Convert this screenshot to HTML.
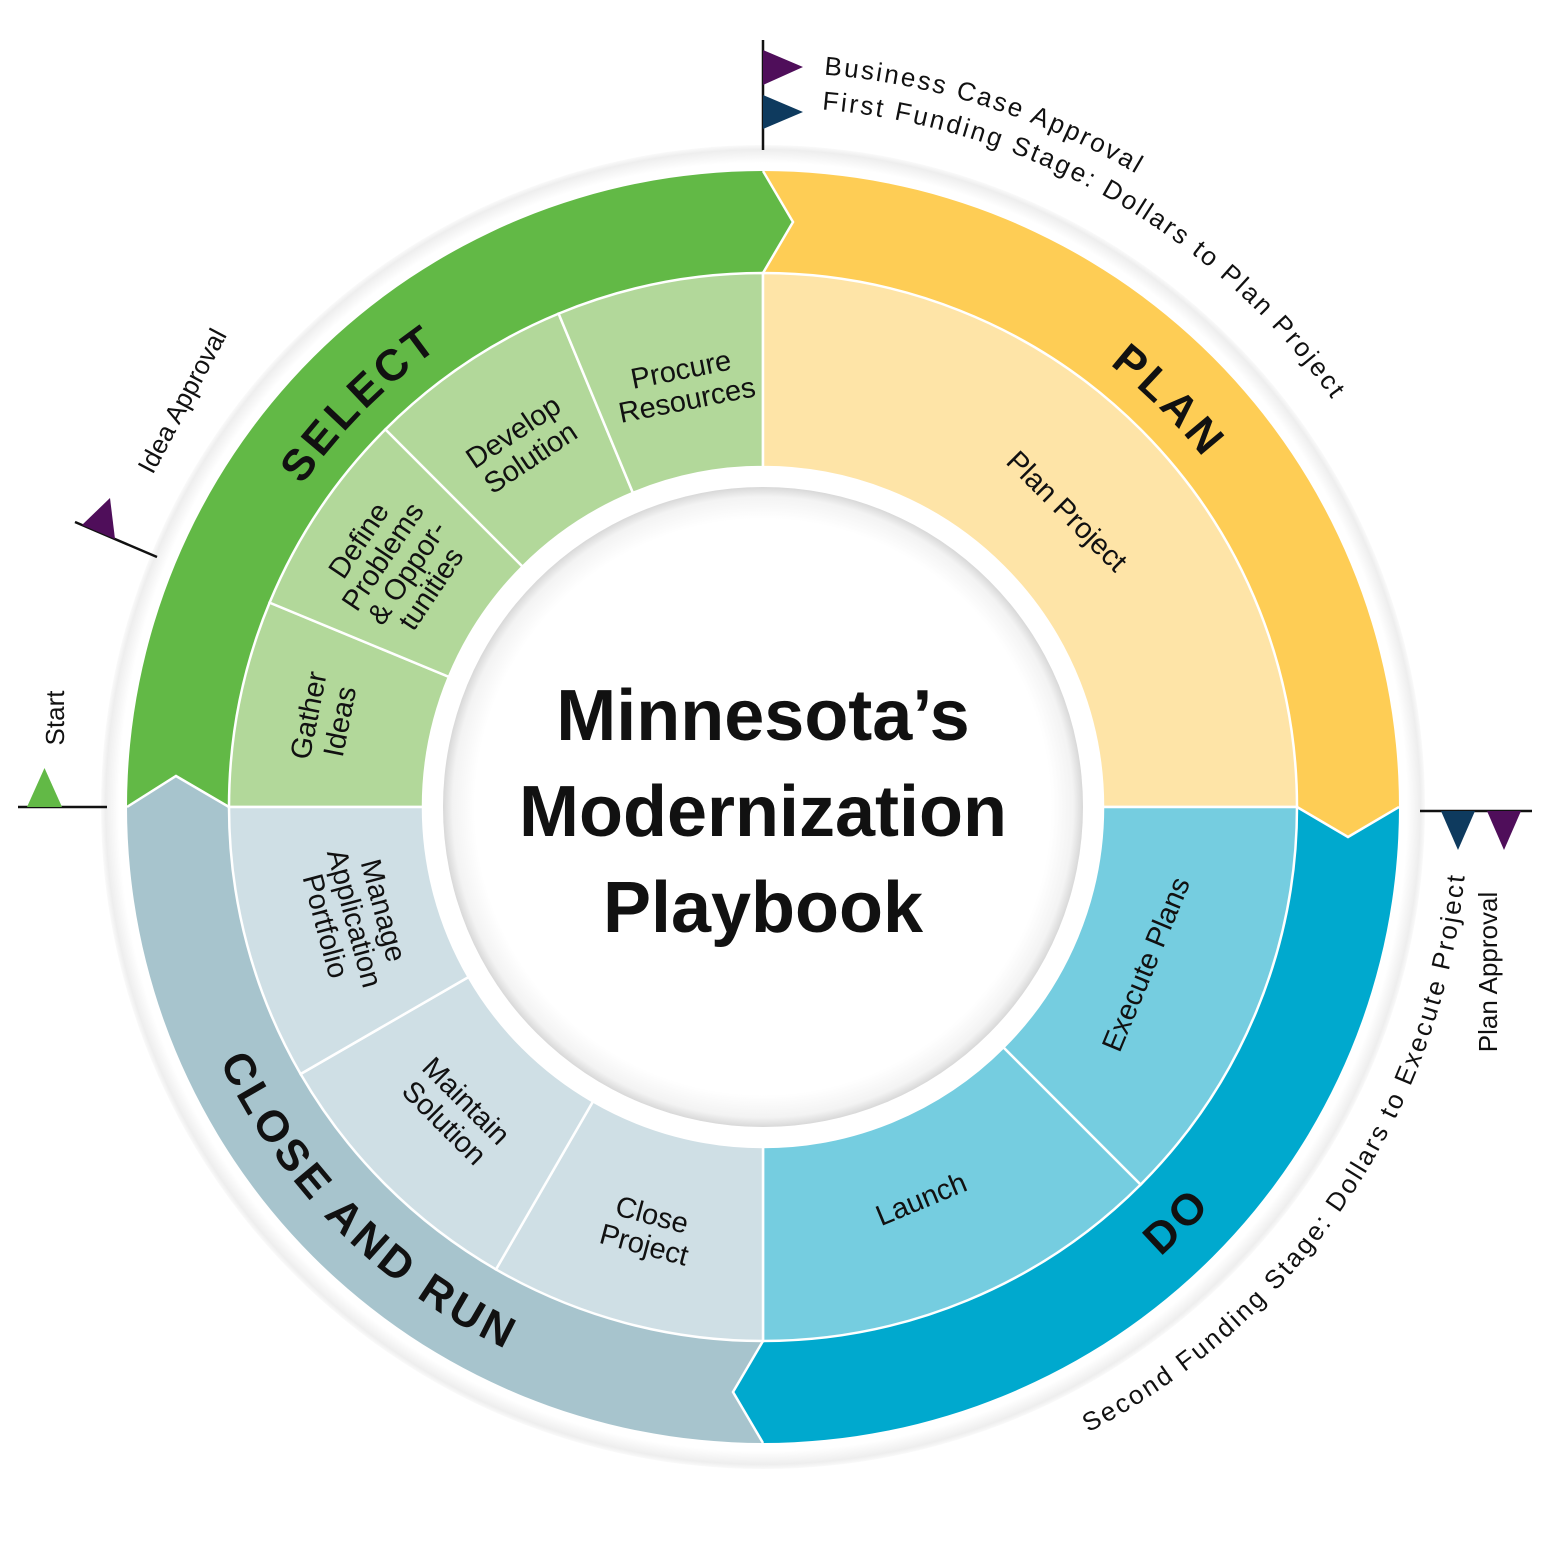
<!DOCTYPE html>
<html><head><meta charset="utf-8"><style>
html,body{margin:0;padding:0;background:#fff;}
svg{display:block;font-family:"Liberation Sans",sans-serif;}
</style></head><body>
<svg width="1550" height="1550" viewBox="0 0 1550 1550" xmlns="http://www.w3.org/2000/svg">
<defs>
<path id="pSel" d="M201,807 A562,562 0 0 1 763,245"/>
<path id="pPlan" d="M763,245 A562,562 0 0 1 1325,807"/>
<path id="pClose" d="M163,807 A600,600 0 0 0 763,1407"/>
<path id="pDo" d="M763,1407 A600,600 0 0 0 1363,807"/>
<path id="pFirst" d="M763,107 A700,700 0 0 1 1463,807"/>
<path id="pBus" d="M763,72 A735,735 0 0 1 1498,807"/>
<path id="pSec" d="M763,1512 A705,705 0 0 0 1468,807"/>
<radialGradient id="cg" cx="763" cy="807" r="320" gradientUnits="userSpaceOnUse">
<stop offset="0.9" stop-color="#fff"/>
<stop offset="0.97" stop-color="#f3f3f3"/>
<stop offset="1" stop-color="#d8d8d8"/>
</radialGradient>
<radialGradient id="og" cx="763" cy="807" r="664" gradientUnits="userSpaceOnUse">
<stop offset="0.97" stop-color="#fff"/>
<stop offset="0.99" stop-color="#eee"/>
<stop offset="1" stop-color="#fff"/>
</radialGradient>
</defs>
<circle cx="763" cy="807" r="662" fill="url(#og)"/>
<path d="M127,807 A636,636 0 0 1 763,171 L763,273 A534,534 0 0 0 229,807 Z" fill="#62b946"/>
<path d="M763,171 A636,636 0 0 1 1399,807 L1297,807 A534,534 0 0 0 763,273 Z" fill="#fecd55"/>
<path d="M1399,807 A636,636 0 0 1 763,1443 L763,1341 A534,534 0 0 0 1297,807 Z" fill="#00a9ce"/>
<path d="M763,1443 A636,636 0 0 1 127,807 L229,807 A534,534 0 0 0 763,1341 Z" fill="#a7c4cd"/>
<polygon points="763,171 793,222 763,273" fill="#62b946"/>
<polygon points="1399,807 1348,837 1297,807" fill="#fecd55"/>
<polygon points="763,1443 733,1392 763,1341" fill="#00a9ce"/>
<polygon points="127,807 176,776 229,807" fill="#a7c4cd"/>
<g stroke="#fff" stroke-width="2.5" fill="none">
<polyline points="763,171 793,222 763,273"/>
<polyline points="1399,807 1348,837 1297,807"/>
<polyline points="763,1443 733,1392 763,1341"/>
<polyline points="127,807 176,776 229,807"/>
</g>
<g stroke="#fff" stroke-width="2.5">
<path d="M229,807 A534,534 0 0 1 269.6,602.6 L448.9,676.9 A340,340 0 0 0 423,807 Z" fill="#b2d89a"/>
<path d="M269.6,602.6 A534,534 0 0 1 385.4,429.4 L522.6,566.6 A340,340 0 0 0 448.9,676.9 Z" fill="#b2d89a"/>
<path d="M385.4,429.4 A534,534 0 0 1 558.6,313.6 L632.9,492.9 A340,340 0 0 0 522.6,566.6 Z" fill="#b2d89a"/>
<path d="M558.6,313.6 A534,534 0 0 1 763,273 L763,467 A340,340 0 0 0 632.9,492.9 Z" fill="#b2d89a"/>
<path d="M763,273 A534,534 0 0 1 1297,807 L1103,807 A340,340 0 0 0 763,467 Z" fill="#fee4a7"/>
<path d="M1297,807 A534,534 0 0 1 1140.6,1184.6 L1003.4,1047.4 A340,340 0 0 0 1103,807 Z" fill="#75cde0"/>
<path d="M1140.6,1184.6 A534,534 0 0 1 763,1341 L763,1147 A340,340 0 0 0 1003.4,1047.4 Z" fill="#75cde0"/>
<path d="M763,1341 A534,534 0 0 1 496,1269.4 L593,1101.4 A340,340 0 0 0 763,1147 Z" fill="#cfdfe5"/>
<path d="M496,1269.4 A534,534 0 0 1 300.6,1074 L468.6,977 A340,340 0 0 0 593,1101.4 Z" fill="#cfdfe5"/>
<path d="M300.6,1074 A534,534 0 0 1 229,807 L423,807 A340,340 0 0 0 468.6,977 Z" fill="#cfdfe5"/>
</g>
<circle cx="763" cy="807" r="340" fill="#fff"/>
<circle cx="763" cy="807" r="320" fill="url(#cg)"/>
<g font-weight="bold" font-size="72" text-anchor="middle" fill="#111">
<text x="763" y="740">Minnesota’s</text>
<text x="763" y="836">Modernization</text>
<text x="763" y="932">Playbook</text>
</g>
<g font-weight="bold" font-size="44" letter-spacing="4" fill="#111">
<text><textPath href="#pSel" startOffset="50%" text-anchor="middle">SELECT</textPath></text>
<text><textPath href="#pPlan" startOffset="50%" text-anchor="middle">PLAN</textPath></text>
<text><textPath href="#pClose" startOffset="50%" text-anchor="middle">CLOSE AND RUN</textPath></text>
<text><textPath href="#pDo" startOffset="50%" text-anchor="middle">DO</textPath></text>
</g>
<g font-size="29" text-anchor="middle" fill="#111">
<text transform="translate(322,718) rotate(-78.75)"><tspan x="0" y="-4">Gather</tspan><tspan x="0" y="28">Ideas</tspan></text>
<text transform="translate(400,568) rotate(-56.25)"><tspan x="0" y="-40">Define</tspan><tspan x="0" y="-11">Problems</tspan><tspan x="0" y="18">&amp; Oppor-</tspan><tspan x="0" y="47">tunities</tspan></text>
<text transform="translate(522,445) rotate(-33.75)"><tspan x="0" y="-6">Develop</tspan><tspan x="0" y="25">Solution</tspan></text>
<text transform="translate(684,385) rotate(-11.25)"><tspan x="0" y="-6">Procure</tspan><tspan x="0" y="25">Resources</tspan></text>
<text transform="translate(1060,518) rotate(45)">Plan Project</text>
<text transform="translate(1155,968) rotate(-67.5)">Execute Plans</text>
<text transform="translate(925,1208) rotate(-22.5)">Launch</text>
<text transform="translate(648,1230) rotate(15)"><tspan x="0" y="-6">Close</tspan><tspan x="0" y="25">Project</tspan></text>
<text transform="translate(455,1112) rotate(45)"><tspan x="0" y="-6">Maintain</tspan><tspan x="0" y="25">Solution</tspan></text>
<text transform="translate(348,920) rotate(75)"><tspan x="0" y="-27">Manage</tspan><tspan x="0" y="3">Application</tspan><tspan x="0" y="33">Portfolio</tspan></text>
</g>
<line x1="18" y1="807" x2="107" y2="807" stroke="#111" stroke-width="2.5"/>
<polygon points="27,807 62,807 44.5,768" fill="#62b946"/>
<line x1="75" y1="522" x2="157" y2="557" stroke="#111" stroke-width="2.5"/>
<polygon points="82,525 115,539 110,498" fill="#4f0e5a"/>
<line x1="763" y1="40" x2="763" y2="150" stroke="#111" stroke-width="2.5"/>
<polygon points="763,50 803,67 763,85" fill="#4f0e5a"/>
<polygon points="763,95 803,112 763,129" fill="#0e3a5e"/>
<line x1="1420" y1="811" x2="1532" y2="811" stroke="#111" stroke-width="2.5"/>
<polygon points="1441,811 1475,811 1458,850" fill="#0e3a5e"/>
<polygon points="1487,811 1521,811 1504,850" fill="#4f0e5a"/>
<g font-size="26" fill="#111">
<text transform="translate(64,718) rotate(-90)" text-anchor="middle">Start</text>
<text transform="translate(190,405) rotate(-62)" text-anchor="middle">Idea Approval</text>
<text transform="translate(1497,972) rotate(-90)" text-anchor="middle">Plan Approval</text>
<text><textPath href="#pBus" startOffset="61" textLength="330">Business Case Approval</textPath></text>
<text><textPath href="#pFirst" startOffset="59" textLength="605">First Funding Stage: Dollars to Plan Project</textPath></text>
<text><textPath href="#pSec" startOffset="338" textLength="700">Second Funding Stage: Dollars to Execute Project</textPath></text>
</g>
</svg>
</body></html>
